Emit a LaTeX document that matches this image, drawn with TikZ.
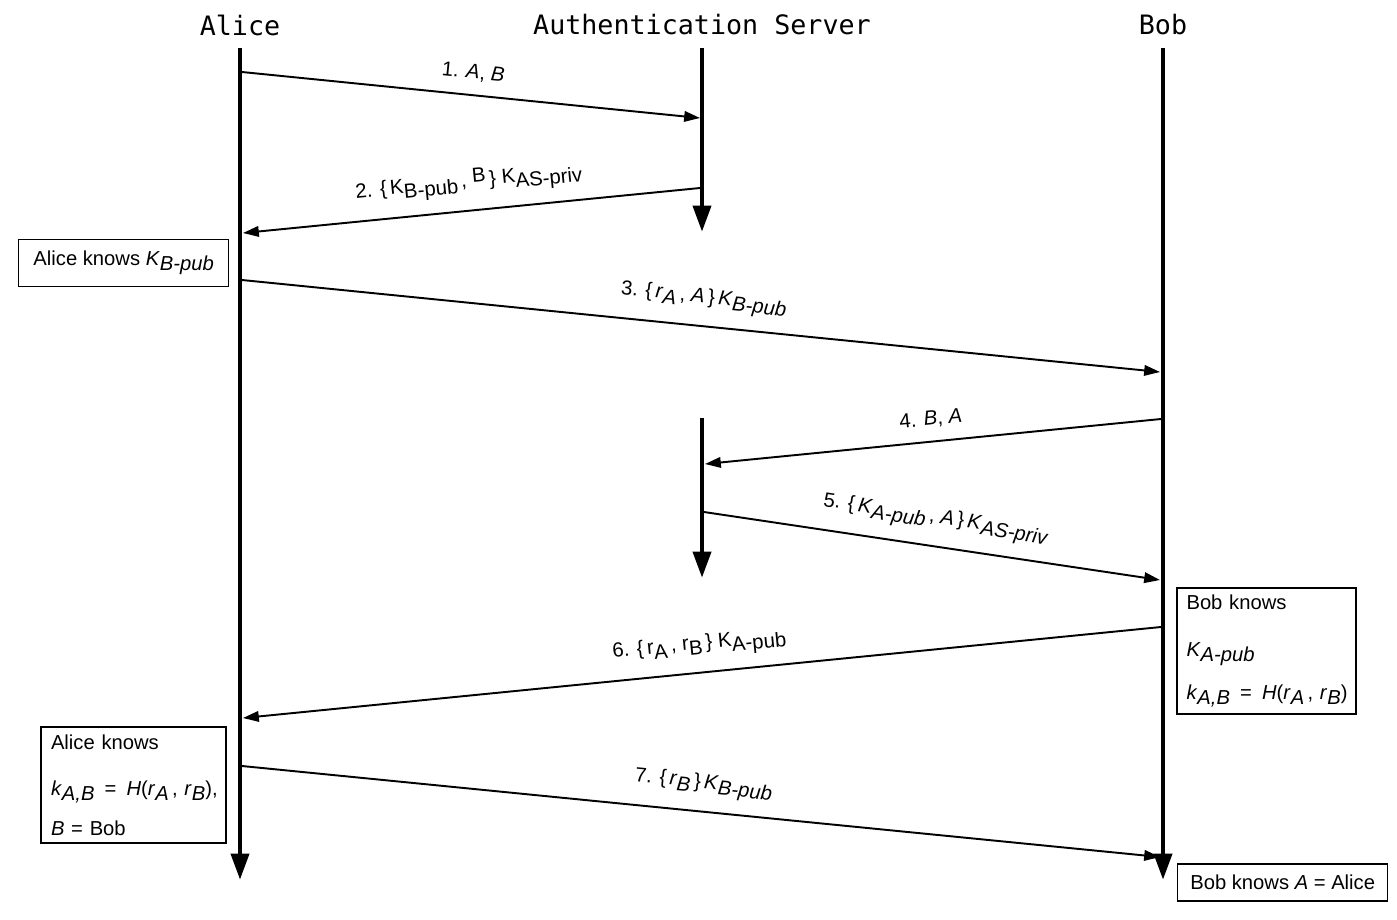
\documentclass[tikz,border=0pt]{standalone}
\usepackage{fontspec}
\setmainfont{Liberation Sans}
\newfontfamily\partyfont{DejaVu Sans Mono}
\usetikzlibrary{arrows.meta}

\newcommand{\ks}[2]{#1\raisebox{-0.5ex}{#2}}

\begin{document}
\begin{tikzpicture}[x=0.02cm,y=-0.02cm,
  party/.style={font=\partyfont\fontsize{15.2}{18}\selectfont},
  lifeline/.style={line width=2.8pt,-{Triangle[length=15pt,width=10pt]}},
  msg/.style={line width=1.1pt,-{Triangle[length=9pt,width=6pt]}},
  lbl/.style={sloped,above=4pt,midway,font=\fontsize{11.6}{13}\selectfont},
  knows/.style={draw,line width=0.8pt,align=left,inner sep=0pt,font=\fontsize{11.5}{13}\selectfont}]
\useasboundingbox (0,0) rectangle (1397,920);

\node[party] (alice) at (240,25) {Alice};
\node[party] (server) at (702,25) {Authentication Server};
\node[party] (bob) at (1163,25) {Bob};

\draw[lifeline] (240,48) -- (240,880);
\draw[lifeline] (702,48) -- (702,232);
\draw[lifeline] (702,418) -- (702,578);
\draw[lifeline] (1163,48) -- (1163,880);

\coordinate (a1) at (242,72);  \coordinate (s1) at (700,118);
\coordinate (s2) at (700,188); \coordinate (a2) at (243,233);
\coordinate (a3) at (242,280); \coordinate (b3) at (1160,372);
\coordinate (b4) at (1161,419); \coordinate (s4) at (705,464);
\coordinate (s5) at (704,512); \coordinate (b5) at (1160,580);
\coordinate (b6) at (1161,627); \coordinate (a6) at (243,718);
\coordinate (a7) at (242,766); \coordinate (b7) at (1160,857);

\draw[msg] (a1) -- node[lbl] {1. \textit{A}, \textit{B}} (s1);
\draw[msg] (s2) -- node[lbl] {2. \{\,\ks{K}{B-pub}\,, \raisebox{0.4ex}{B}\,\} \ks{K}{AS-priv}} (a2);
\draw[msg] (a3) -- node[lbl] {3. \{\,\ks{\textit{r}}{\textit{A}}\,, \textit{A}\,\}\,\ks{\textit{K}}{\textit{B-pub}}} (b3);
\draw[msg] (b4) -- node[lbl] {4. \textit{B}, \textit{A}} (s4);
\draw[msg] (s5) -- node[lbl] {5. \{\,\ks{\textit{K}}{\textit{A-pub}}\,, \textit{A}\,\}\,\ks{\textit{K}}{\textit{AS-priv}}} (b5);
\draw[msg] (b6) -- node[lbl] {6. \{\,\ks{r}{A}\,, \ks{r}{B}\,\} \ks{K}{A-pub}} (a6);
\draw[msg] (a7) -- node[lbl] {7. \{\,\ks{\textit{r}}{\textit{B}}\,\}\,\ks{\textit{K}}{\textit{B-pub}}} (b7);

\node[knows,minimum width=4.2cm,minimum height=0.94cm,inner xsep=0.23cm,anchor=west] (k1) at (18,263)
  {Alice knows \ks{\textit{K}}{\textit{B-pub}}};
\node[knows,minimum width=3.58cm,minimum height=2.52cm,text width=3.2cm,inner xsep=0.19cm] (k2) at (1266.5,651)
  {\mbox{Bob knows}\\[2.3ex]
   \mbox{\ks{\textit{K}}{\textit{A-pub}}}\\[1.6ex]
   \mbox{\ks{\textit{k}}{\textit{A,B}} \,=\, \textit{H}(\ks{\textit{r}}{\textit{A}}\,, \ks{\textit{r}}{\textit{B}})}};
\node[knows,minimum width=3.7cm,minimum height=2.32cm,text width=3.3cm,inner xsep=0.2cm] (k3) at (133.5,785)
  {\mbox{Alice knows}\\[2.2ex]
   \mbox{\ks{\textit{k}}{\textit{A,B}} \,=\, \textit{H}(\ks{\textit{r}}{\textit{A}}\,, \ks{\textit{r}}{\textit{B}}),}\\[1.6ex]
   \mbox{\textit{B} = Bob}};
\node[knows,minimum width=4.2cm,minimum height=0.74cm,inner xsep=0.22cm,anchor=west] (k4) at (1177,882.5)
  {Bob knows \textit{A} = Alice};
\end{tikzpicture}
\end{document}
